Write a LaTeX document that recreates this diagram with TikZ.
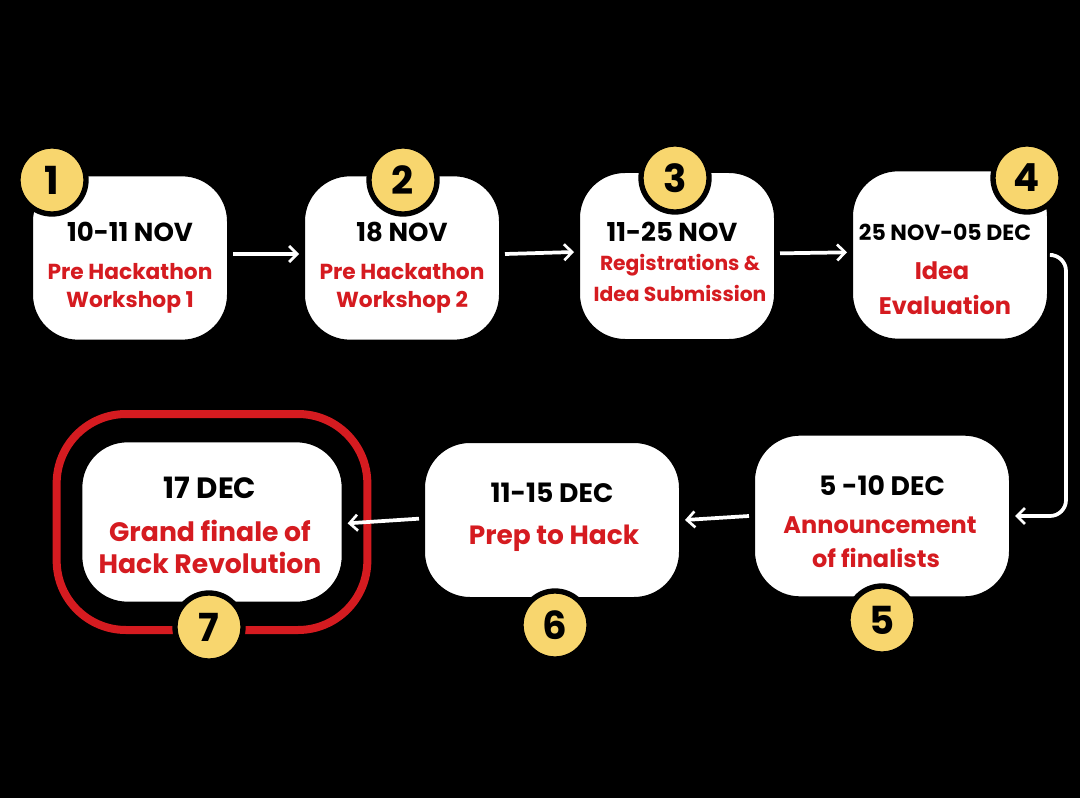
\documentclass[tikz,border=0pt]{standalone}
\usepackage{fontspec}
\setmainfont{Poppins}
\usetikzlibrary{arrows.meta}
\definecolor{hackred}{RGB}{213,27,32}
\definecolor{badgeyellow}{RGB}{248,214,110}
\tikzset{every picture/.style={line width=0.75pt}}
\tikzset{
  stepbox/.style={draw=black, line width=4.5pt, fill=white, rounded corners=36pt, inner sep=0pt},
  badge/.style={circle, draw=black, line width=4pt, fill=badgeyellow, minimum size=51pt, inner sep=0pt, font=\bfseries\fontsize{29}{29}\selectfont},
  datetxt/.style={font=\bfseries\fontsize{19.5}{19.5}\selectfont, text=black},
  redtxt/.style={font=\bfseries\fontsize{16.3}{16.3}\selectfont, text=hackred},
  arrw/.style={draw=white, line width=2.8pt, -{Straight Barb[length=6pt,width=12pt,line width=2pt]}},
}

\begin{document}
\begin{tikzpicture}[x=0.75pt,y=0.75pt,yscale=-1,xscale=1]
%background
\fill[black] (0,0) rectangle (1080,798);
\useasboundingbox (0,0) rectangle (1080,798);

%Shape: red frame round the last step
\node[draw=hackred, line width=6pt, rounded corners=52pt, minimum width=233pt, minimum height=162pt] (f7) at (212,522) {};

%Shape: step boxes
\node[stepbox, minimum width=150pt, minimum height=127pt] (b1) at (130,258) {};
\node[stepbox, minimum width=150pt, minimum height=127pt] (b2) at (402,258) {};
\node[stepbox, minimum width=150pt, minimum height=129pt] (b3) at (677,256) {};
\node[stepbox, minimum width=150pt, minimum height=130pt] (b4) at (950,255) {};
\node[stepbox, minimum width=195pt, minimum height=125pt] (b5) at (882,516) {};
\node[stepbox, minimum width=195pt, minimum height=120pt] (b6) at (552,520) {};
\node[stepbox, minimum width=199pt, minimum height=124pt] (b7) at (212,522) {};

%Straight Lines
\draw[arrw] ([yshift=-3pt]b1.east) -- ([yshift=-3pt]b2.west);
\draw[arrw] ([yshift=-3pt]b2.east) -- ([yshift=-3pt]b3.west);
\draw[arrw] ([yshift=-2pt]b3.east) -- ([yshift=-2pt]b4.west);
\coordinate (k4) at (1066,255);
\draw[arrw, rounded corners=12pt] (b4.east) -- (k4) |- (b5.east);
\draw[arrw] (b5.west) -- (b6.east);
\draw[arrw] ([yshift=-1pt]b6.west) -- ([yshift=1pt]b7.east);

%Shape: number badges
\node[badge] (n1) at (52,180) {1};
\node[badge] (n2) at (403,180) {2};
\node[badge] (n3) at (675,178) {3};
\node[badge] (n4) at (1027,178) {4};
\node[badge] (n5) at (882,620) {5};
\node[badge] (n6) at (555,625) {6};
\node[badge] (n7) at (209,627) {7};

% Text Node
\node[datetxt] (d1) at (130,232) {10-11 NOV};
\node[redtxt] (r1a) at (130,272) {Pre Hackathon};
\node[redtxt] (r1b) at (130,302) {Workshop 1};
% Text Node
\node[datetxt] (d2) at (402,232) {18 NOV};
\node[redtxt] (r2a) at (402,272) {Pre Hackathon};
\node[redtxt] (r2b) at (402,302) {Workshop 2};
% Text Node
\node[datetxt] (d3) at (672,232) {11-25 NOV};
\node[redtxt, font=\bfseries\fontsize{15.2}{15.2}\selectfont] (r3a) at (680,265) {Registrations \&};
\node[redtxt, font=\bfseries\fontsize{15.2}{15.2}\selectfont] (r3b) at (680,293) {Idea Submission};
% Text Node
\node[datetxt, font=\bfseries\fontsize{16.5}{16.5}\selectfont] (d4) at (945,232) {25 NOV-05 DEC};
\node[redtxt, font=\bfseries\fontsize{18}{18}\selectfont] (r4a) at (942,271) {Idea};
\node[redtxt, font=\bfseries\fontsize{18}{18}\selectfont] (r4b) at (945,305) {Evaluation};
% Text Node
\node[datetxt, font=\bfseries\fontsize{20}{20}\selectfont] (d5) at (882,486) {5 -10 DEC};
\node[redtxt, font=\bfseries\fontsize{18}{18}\selectfont] (r5a) at (880,525) {Announcement};
\node[redtxt, font=\bfseries\fontsize{18}{18}\selectfont] (r5b) at (876,558) {of finalists};
% Text Node
\node[datetxt, font=\bfseries\fontsize{20}{20}\selectfont] (d6) at (552,493) {11-15 DEC};
\node[redtxt, font=\bfseries\fontsize{19.8}{19.8}\selectfont] (r6) at (554,538) {Prep to Hack};
% Text Node
\node[datetxt, font=\bfseries\fontsize{22}{22}\selectfont] (d7) at (210,488) {17 DEC};
\node[redtxt, font=\bfseries\fontsize{20}{20}\selectfont] (r7a) at (210,531) {Grand finale of};
\node[redtxt, font=\bfseries\fontsize{20}{20}\selectfont] (r7b) at (210,563) {Hack Revolution};

\end{tikzpicture}
\end{document}
